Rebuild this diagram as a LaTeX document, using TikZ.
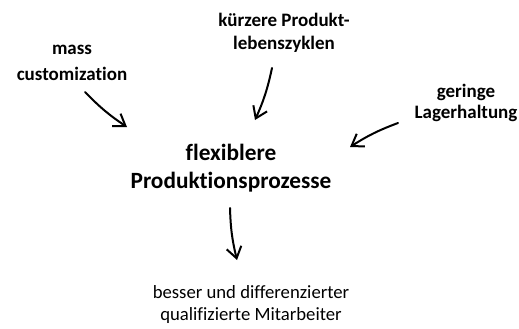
\documentclass[tikz,border=0pt]{standalone}
\usepackage{fontspec}
\setmainfont[Ligatures={NoCommon}]{Carlito}
\usetikzlibrary{arrows.meta}
\begin{document}
\begin{tikzpicture}[x=1pt,y=-1pt,
  label/.style={inner sep=0pt, align=center, anchor=base, font=\fontsize{19}{23}\selectfont\bfseries},
  core/.style={label, font=\fontsize{23.3}{28}\selectfont\bfseries},
  result/.style={label, font=\fontsize{18.7}{22}\selectfont},
  sketch/.style={line width=2pt, line cap=round, line join=round,
    -{Straight Barb[length=11pt, width=15pt, line width=2pt]}}]
  \useasboundingbox (0,0) rectangle (519,329);

  % text nodes, placed by the baseline of their last line
  \node[label, font=\fontsize{19}{25}\selectfont\bfseries] (mass) at (72,80) {mass\\customization};
  \node[label] (cycle) at (284,50) {kürzere Produkt-\\lebenszyklen};
  \node[label, font=\fontsize{19}{21}\selectfont\bfseries] (stock) at (466,118) {geringe\\Lagerhaltung};
  \node[core] (flex) at (231,188) {flexiblere\\Produktionsprozesse};
  \node[result] (staff) at (251,320) {besser und differenzierter\\qualifizierte Mitarbeiter};

  % free ends of the hand-drawn arrows
  \coordinate (m0) at (85,92);   \coordinate (m1) at (127,127);
  \coordinate (c0) at (272,68);  \coordinate (c1) at (255,120);
  \coordinate (s0) at (398,123); \coordinate (s1) at (350,147);
  \coordinate (f0) at (230,208); \coordinate (f1) at (237,260);

  \draw[sketch] (m0) to[bend right=6] (m1);
  \draw[sketch] (c0) to[bend left=6] (c1);
  \draw[sketch] (s0) to[bend right=6] (s1);
  \draw[sketch] (f0) to[bend right=6] (f1);
\end{tikzpicture}
\end{document}
